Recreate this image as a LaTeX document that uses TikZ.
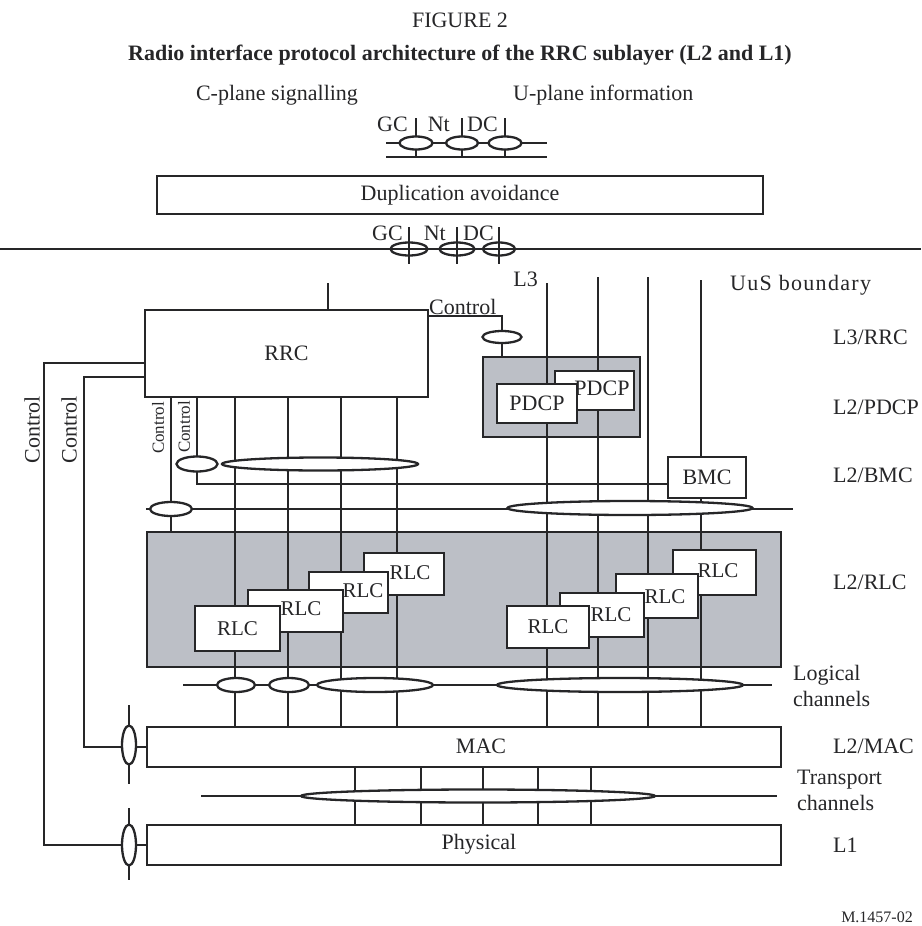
\documentclass[tikz,border=0pt]{standalone}
\usepackage{fontspec}
\setmainfont{Liberation Serif}
\usetikzlibrary{shapes.geometric}
\definecolor{ink}{RGB}{38,38,40}
\definecolor{shade}{RGB}{188,191,198}
\pgfdeclarelayer{shading}
\pgfdeclarelayer{wires}
\pgfsetlayers{shading,wires,main}
\begin{document}
\begin{tikzpicture}[x=1pt,y=-1pt,color=ink,line width=2.3pt,
        txt/.style={font=\fontsize{22}{26}\selectfont,inner sep=0pt},
        small/.style={font=\fontsize{17}{20}\selectfont,inner sep=0pt},
        box/.style={draw=ink,line width=2.3pt,fill=white,rectangle,inner sep=0pt,font=\fontsize{22}{26}\selectfont},
        grey/.style={draw=ink,line width=2.3pt,fill=shade,rectangle,inner sep=0pt},
        oval/.style={draw=ink,line width=2.3pt,fill=white,ellipse,inner sep=0pt},
        ring/.style={draw=ink,line width=2.3pt,ellipse,inner sep=0pt},
        wire/.style={draw=ink,line width=2.3pt},
        size/.style 2 args={minimum width=#1,minimum height=#2}
    ]
        \useasboundingbox (0,0) rectangle (921,926);

        % Titles
        \node[txt] (fig) at (460,20) {FIGURE 2};
        \node[txt,font=\fontsize{22}{26}\selectfont\bfseries] (title) at (460,55)
            {Radio interface protocol architecture of the RRC sublayer (L2 and L1)};
        \node[txt] (cplane) at (277,95) {C-plane signalling};
        \node[txt,anchor=west] (uplane) at (512,95) {U-plane information};

        % Shaded groups
        \begin{pgfonlayer}{shading}
        \node[grey,size={157}{80}] (pdcpgrey) at (561.5,397) {};
        \node[grey,size={634}{135}] (rlcgrey) at (464,599.5) {};
        \end{pgfonlayer}

        % Boxes
        \node[box,size={606}{38}] (dup) at (460,195) {Duplication avoidance};
        \node[box,size={283}{87}] (rrc) at (286.5,353.5) {RRC};
        \node[box,size={79}{39}] (pdcp2) at (594.5,390.5) {};
        \node[txt] (pdcp2t) at (602,388) {PDCP};
        \node[box,size={80}{39}] (pdcp1) at (537,403.5) {PDCP};
        \node[box,size={78}{41}] (bmc) at (707,477.5) {BMC};
        \node[box,size={80}{42}] (rlc4) at (404,574) {};
        \node[txt,font=\fontsize{21}{24}\selectfont] (rlc4t) at (410,573) {RLC};
        \node[box,size={79}{41}] (rlc3) at (348.5,592.5) {};
        \node[txt,font=\fontsize{21}{24}\selectfont] (rlc3t) at (363,591) {RLC};
        \node[box,size={95}{42}] (rlc2) at (295.5,611) {};
        \node[txt,font=\fontsize{21}{24}\selectfont] (rlc2t) at (301,609) {RLC};
        \node[box,size={85}{45},font=\fontsize{21}{24}\selectfont] (rlc1) at (237.5,628.5) {RLC};
        \node[box,size={83}{45}] (rlc8) at (714.5,572.5) {};
        \node[txt,font=\fontsize{21}{24}\selectfont] (rlc8t) at (718,571) {RLC};
        \node[box,size={82}{44}] (rlc7) at (657,596) {};
        \node[txt,font=\fontsize{21}{24}\selectfont] (rlc7t) at (665,597) {RLC};
        \node[box,size={84}{44}] (rlc6) at (602,615) {};
        \node[txt,font=\fontsize{21}{24}\selectfont] (rlc6t) at (611,615) {RLC};
        \node[box,size={82}{42},font=\fontsize{21}{24}\selectfont] (rlc5) at (548,627) {RLC};
        \node[box,size={634}{40}] (mac) at (464,747) {};
        \node[txt] (mact) at (481,746) {MAC};
        \node[box,size={634}{40}] (phy) at (464,845) {};
        \node[txt] (phyt) at (479,844) {Physical};

        % Channel ovals
        \node[oval,size={33}{13}] (gc1) at (416,143) {};
        \node[oval,size={32}{13}] (nt1) at (462,143) {};
        \node[oval,size={33}{13}] (dc1) at (505,143) {};
        \node[ring,size={37}{13}] (gc2) at (409,249) {};
        \node[ring,size={35}{13}] (nt2) at (457,249) {};
        \node[ring,size={32}{13}] (dc2) at (499,249) {};
        \node[oval,size={39}{12}] (octl) at (502,337) {};
        \node[oval,size={41}{15}] (ob) at (197,464) {};
        \node[oval,size={196}{13}] (obig) at (320,464) {};
        \node[oval,size={42}{14}] (oa) at (171,509) {};
        \node[oval,size={245}{14}] (obmc) at (630,508) {};
        \node[oval,size={38}{14}] (lg1) at (236,685) {};
        \node[oval,size={40}{14}] (lg2) at (289,685) {};
        \node[oval,size={116}{14}] (lg3) at (375,685) {};
        \node[oval,size={246}{14}] (lg4) at (620,685) {};
        \node[oval,size={354}{13}] (tr) at (478,796) {};
        \node[oval,size={14}{39}] (omac) at (129,745) {};
        \node[oval,size={14}{41}] (ophy) at (129,845) {};

        % Labels
        \node[txt,anchor=east] at (408,124) {GC};
        \node[txt,anchor=east] at (450,124) {Nt};
        \node[txt,anchor=east] at (498,124) {DC};
        \node[txt,anchor=east] at (403,233) {GC};
        \node[txt,anchor=east] at (446,233) {Nt};
        \node[txt,anchor=east] at (494,233) {DC};
        \node[txt,anchor=east] (l3) at (538,279) {L3};
        \node[txt,anchor=south west] (ctl) at (429,315) {Control};
        \node[txt,rotate=90] (ctl1) at (32,430) {Control};
        \node[txt,rotate=90] (ctl2) at (69,430) {Control};
        \node[small,rotate=90] (ctl3) at (158,428) {Control};
        \node[small,rotate=90] (ctl4) at (184,427) {Control};
        \node[txt,anchor=west] (uus) at (730,285) {\addfontfeatures{LetterSpace=6}UuS boundary};
        \node[txt,anchor=west] at (833,337) {L3/RRC};
        \node[txt,anchor=west] at (833,407) {L2/PDCP};
        \node[txt,anchor=west] at (833,475) {L2/BMC};
        \node[txt,anchor=west] at (833,582) {L2/RLC};
        \node[txt,anchor=west,align=left] at (793,686) {Logical\\channels};
        \node[txt,anchor=west] at (833,746) {L2/MAC};
        \node[txt,anchor=west,align=left] at (797,790) {Transport\\channels};
        \node[txt,anchor=west] at (833,845) {L1};
        \node[small,font=\fontsize{16}{18}\selectfont,anchor=east] (ref) at (913,917) {M.1457-02};

        % Wires
        \begin{pgfonlayer}{wires}
        \begin{scope}[wire]
        \draw (386,143) -- (547,143);
        \draw (386,157) -- (547,157);
        \foreach \x in {416,462,505}
            \draw (\x,118) -- (\x,157);
        \draw (0,249) -- (921,249);
        \foreach \x in {409,457,499}
            \draw (\x,227) -- (\x,264);
        \draw (328,283) -- (rrc.north -| 328,0);
        \draw (rrc.east |- 0,316) -| (pdcpgrey.north -| octl);
        \foreach \x in {235,288,341,397}
            \draw (rrc.south -| \x,0) -- (mac.north -| \x,0);
        \foreach \x/\y in {547/283,598/277,648/277,701/280}
            \draw (\x,\y) -- (mac.north -| \x,0);
        \draw (rrc.south -| oa) -- (rlcgrey.north -| oa);
        \draw (rrc.south -| ob) |- ([yshift=-6.5pt]bmc.west);
        \draw (146,509) -- (793,509);
        \draw (183,685) -- (772,685);
        \draw (201,796) -- (777,796);
        \foreach \x in {355,421,483,538,591}
            \draw (mac.south -| \x,0) -- (phy.north -| \x,0);
        \draw (rrc.west |- 0,363) -- (44,363) |- (phy.west);
        \draw (rrc.west |- 0,377) -- (84,377) |- (mac.west);
        \draw (129,705) -- (129,784);
        \draw (129,808) -- (129,880);
        \end{scope}
        \end{pgfonlayer}
    \end{tikzpicture}
\end{document}
